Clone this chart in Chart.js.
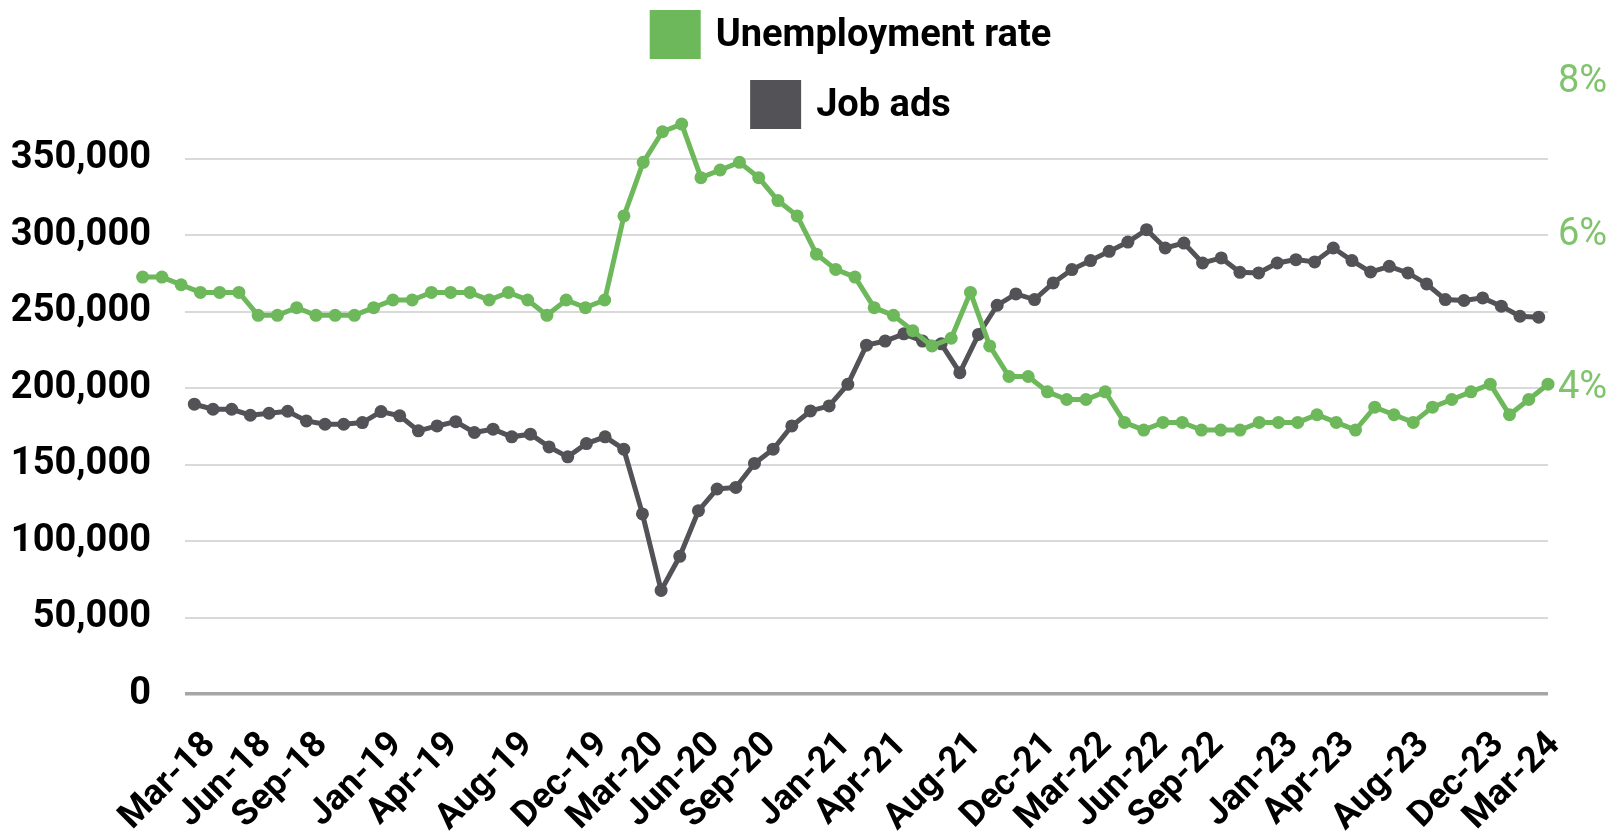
<!DOCTYPE html>
<html lang="en">
<head>
<meta charset="utf-8">
<title>Job ads e taxa de desemprego</title>
<script src="https://cdn.jsdelivr.net/npm/chart.js@4.4.1/dist/chart.umd.min.js"></script>
<style>
    html, body { margin: 0; padding: 0; background: #ffffff; }
    #grafico { display: block; }
</style>
</head>
<body>
<canvas id="grafico" width="1615" height="831"></canvas>
<script>
const meses = [
    'Mar-18', 'Apr-18', 'May-18', 'Jun-18', 'Jul-18', 'Aug-18', 'Sep-18', 'Oct-18', 'Nov-18', 'Dec-18',
    'Jan-19', 'Feb-19', 'Mar-19', 'Apr-19', 'May-19', 'Jun-19', 'Jul-19', 'Aug-19', 'Sep-19', 'Oct-19', 'Nov-19', 'Dec-19',
    'Jan-20', 'Feb-20', 'Mar-20', 'Apr-20', 'May-20', 'Jun-20', 'Jul-20', 'Aug-20', 'Sep-20', 'Oct-20', 'Nov-20', 'Dec-20',
    'Jan-21', 'Feb-21', 'Mar-21', 'Apr-21', 'May-21', 'Jun-21', 'Jul-21', 'Aug-21', 'Sep-21', 'Oct-21', 'Nov-21', 'Dec-21',
    'Jan-22', 'Feb-22', 'Mar-22', 'Apr-22', 'May-22', 'Jun-22', 'Jul-22', 'Aug-22', 'Sep-22', 'Oct-22', 'Nov-22', 'Dec-22',
    'Jan-23', 'Feb-23', 'Mar-23', 'Apr-23', 'May-23', 'Jun-23', 'Jul-23', 'Aug-23', 'Sep-23', 'Oct-23', 'Nov-23', 'Dec-23',
    'Jan-24', 'Feb-24', 'Mar-24'
];

// rotulos que aparecem no eixo x
const rotulosVisiveis = [
    'Mar-18', 'Jun-18', 'Sep-18', 'Jan-19', 'Apr-19', 'Aug-19', 'Dec-19', 'Mar-20', 'Jun-20', 'Sep-20', 'Jan-21',
    'Apr-21', 'Aug-21', 'Dec-21', 'Mar-22', 'Jun-22', 'Sep-22', 'Jan-23', 'Apr-23', 'Aug-23', 'Dec-23', 'Mar-24'
];

// Job ads (um valor por mes)
const anunciosVagas = [
    189400, 186100, 186100, 182200, 183500, 184800, 178500, 176300, 176300, 177400,
    184600, 181800, 172000, 175200, 178000, 170900, 173100, 168100, 169800, 161500,
    155000, 163700, 168100, 160000, 117700, 67700, 90000, 119800, 134000, 135000,
    150700, 160000, 175200, 185000, 188300, 202400, 228000, 230700, 235400, 230700,
    228900, 210000, 235000, 254100, 261500, 257800, 268700, 277400, 283300, 289300,
    295400, 303500, 291500, 294700, 281700, 285000, 275600, 275200, 281700, 283900,
    282400, 291500, 283300, 275800, 279500, 275200, 268000, 257800, 257200, 258900,
    253500, 246900, 246300
];

// Unemployment rate (%), serie com um ponto a mais e deslocada para a esquerda
const taxaDesemprego = [
    5.45, 5.45, 5.35, 5.25, 5.25, 5.25, 4.95, 4.95, 5.05, 4.95,
    4.95, 4.95, 5.05, 5.15, 5.15, 5.25, 5.25, 5.25, 5.15, 5.25,
    5.15, 4.95, 5.15, 5.05, 5.15, 6.25, 6.95, 7.35, 7.45, 6.75,
    6.85, 6.95, 6.75, 6.45, 6.25, 5.75, 5.55, 5.45, 5.05, 4.95,
    4.75, 4.55, 4.65, 5.25, 4.55, 4.15, 4.15, 3.95, 3.85, 3.85,
    3.95, 3.55, 3.45, 3.55, 3.55, 3.45, 3.45, 3.45, 3.55, 3.55,
    3.55, 3.65, 3.55, 3.45, 3.75, 3.65, 3.55, 3.75, 3.85, 3.95,
    4.05, 3.65, 3.85, 4.05
];

const ticksVagas = [0, 50000, 100000, 150000, 200000, 250000, 300000, 350000];
const ticksDesemprego = [4, 6, 8];

const FONTE = "'Noto Sans Condensed', 'Roboto', 'Liberation Sans', sans-serif";
const VERDE = '#6db85b';
const VERDE_TEXTO = '#7fc46c';
const CINZA = '#525257';
const DESLOCAMENTO_DESEMPREGO = 2.2;

// legenda em duas linhas, centralizada no topo
const legendaEmLinhas = {
    id: 'legendaEmLinhas',
    afterDraw(chart) {
        const ctx = chart.ctx;
        const area = chart.chartArea;
        const centro = (area.left + area.right) / 2 - 16;

        ctx.save();
        ctx.font = `bold 38px ${FONTE}`;
        ctx.textBaseline = 'middle';
        ctx.textAlign = 'left';

        chart.data.datasets.forEach((ds, i) => {
            const largura = 51 + 15 + ctx.measureText(ds.label).width;
            const x = centro - largura / 2;
            const topo = 10 + i * 70;

            ctx.fillStyle = ds.borderColor;
            ctx.fillRect(x, topo, 51, 49);
            ctx.fillStyle = '#000000';
            ctx.fillText(ds.label, x + 66, topo + 26);
        });

        ctx.restore();
    }
};

// deixa desenhar os pontos da serie verde que ficam a esquerda da area
const pontosForaDaArea = {
    id: 'pontosForaDaArea',
    beforeDatasetsDraw(chart) {
        chart.$esquerdaArea = chart.chartArea.left;
        chart.chartArea.left = 0;
    },
    afterDatasetsDraw(chart) {
        chart.chartArea.left = chart.$esquerdaArea;
    }
};

new Chart(document.getElementById('grafico'), {
    type: 'line',
    data: {
        labels: meses,
        datasets: [{
            label: 'Unemployment rate',
            data: taxaDesemprego.map((v, i) => ({ x: i, y: v })),
            xAxisID: 'x2',
            yAxisID: 'y1',
            borderColor: VERDE,
            backgroundColor: VERDE,
            borderWidth: 5,
            pointRadius: 6.5,
            pointBorderWidth: 0,
            pointBackgroundColor: VERDE,
            tension: 0,
            clip: false
        }, {
            label: 'Job ads',
            data: anunciosVagas,
            xAxisID: 'x',
            yAxisID: 'y',
            borderColor: CINZA,
            backgroundColor: CINZA,
            borderWidth: 5,
            pointRadius: 6.5,
            pointBorderWidth: 0,
            pointBackgroundColor: CINZA,
            tension: 0
        }]
    },
    options: {
        responsive: false,
        animation: false,
        layout: {
            padding: { top: 82, left: 0, right: 0, bottom: 0 }
        },
        plugins: {
            legend: { display: false },
            tooltip: { enabled: false }
        },
        scales: {
            x: {
                type: 'category',
                offset: true,
                grid: { display: false, drawTicks: false },
                border: { display: false },
                ticks: {
                    autoSkip: false,
                    maxRotation: 45,
                    minRotation: 45,
                    padding: 30,
                    labelOffset: 16,
                    color: '#000000',
                    font: { family: FONTE, size: 36, weight: 'bold' },
                    callback: function (valor) {
                        const rotulo = this.getLabelForValue(valor);
                        return rotulosVisiveis.includes(rotulo) ? rotulo : '';
                    }
                },
                afterFit: (escala) => { escala.height = 137; }
            },
            x2: {
                type: 'linear',
                display: false,
                bounds: 'data',
                afterDataLimits: (escala) => {
                    escala.min = DESLOCAMENTO_DESEMPREGO;
                    escala.max = taxaDesemprego.length - 1;
                }
            },
            y: {
                position: 'left',
                min: 0,
                max: 400000,
                border: { display: false },
                grid: {
                    drawTicks: false,
                    color: (c) => {
                        if (!ticksVagas.includes(c.tick.value)) return 'rgba(0,0,0,0)';
                        return c.tick.value === 0 ? '#a6a6a6' : '#d9d9d9';
                    },
                    lineWidth: (c) => c.tick.value === 0 ? 3.5 : 2
                },
                ticks: {
                    stepSize: 50000,
                    padding: 34,
                    color: '#000000',
                    font: { family: FONTE, size: 38, weight: 'bold' },
                    callback: (v) => ticksVagas.includes(v) ? v.toLocaleString('en-US') : ''
                },
                afterFit: (escala) => { escala.width = 185; }
            },
            y1: {
                position: 'right',
                min: 0,
                max: 8,
                border: { display: false },
                grid: { display: false, drawTicks: false },
                ticks: {
                    stepSize: 2,
                    padding: 10,
                    color: VERDE_TEXTO,
                    font: { family: FONTE, size: 38 },
                    callback: (v) => ticksDesemprego.includes(v) ? v + '%' : ''
                },
                afterFit: (escala) => { escala.width = 67; }
            }
        }
    },
    plugins: [pontosForaDaArea, legendaEmLinhas]
});
</script>
</body>
</html>
